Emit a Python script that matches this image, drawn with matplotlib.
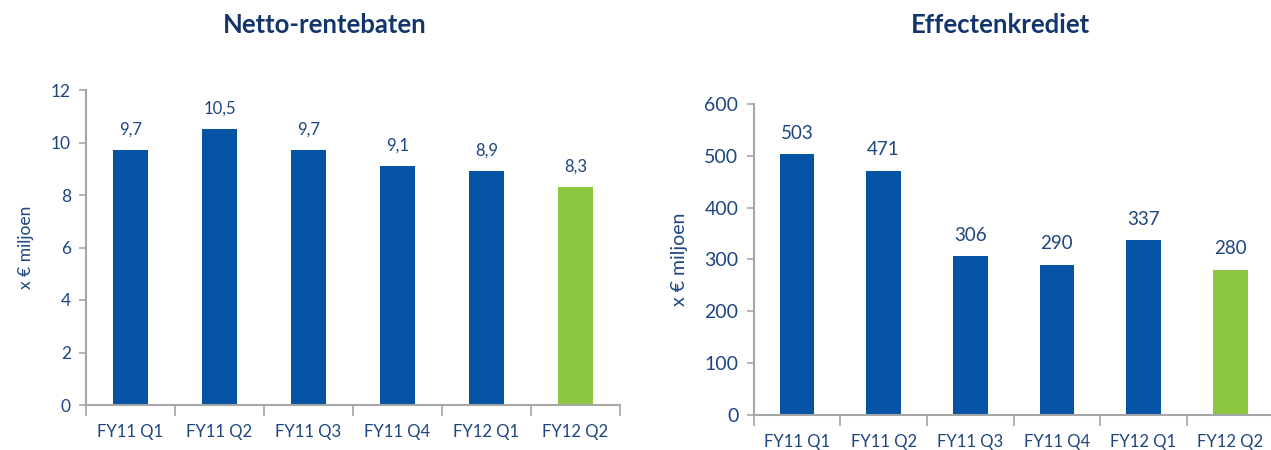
import matplotlib.pyplot as plt
import numpy as np

# data
quarters = ["FY11 Q1", "FY11 Q2", "FY11 Q3", "FY11 Q4", "FY12 Q1", "FY12 Q2"]
rente = [9.7, 10.5, 9.7, 9.1, 8.9, 8.3]
rente_labels = ["9,7", "10,5", "9,7", "9,1", "8,9", "8,3"]
krediet = [503, 471, 306, 290, 337, 280]
krediet_labels = ["503", "471", "306", "290", "337", "280"]

BLUE = "#0453a5"
GREEN = "#8dc63f"
TEXT = "#1d4580"
TITLE = "#12366b"
AXIS = "#a6a6a6"

plt.rcParams['font.family'] = ['Lato', 'DejaVu Sans']


def bar_panel(ax, values, labels, ymax, step, title, title_x, fs):
    x = np.arange(len(values))
    colors = [BLUE] * (len(values) - 1) + [GREEN]
    ax.bar(x, values, width=0.4, color=colors)
    for xi, v, lab in zip(x, values, labels):
        ax.annotate(lab, (xi, v), xytext=(0, 9), textcoords="offset points",
                    ha="center", va="bottom", fontsize=fs, color=TEXT)
    ax.set_xlim(-0.5, len(values) - 0.5)
    ax.set_ylim(0, ymax)
    ax.set_yticks(np.arange(0, ymax + step / 2, step))
    ax.set_xticks(x)
    ax.set_xticklabels(quarters)
    # tick marks sit between the categories
    ax.set_xticks(np.arange(-0.5, len(values)), minor=True)
    ax.tick_params(axis="x", which="major", length=0, pad=14, labelsize=12, labelcolor=TEXT)
    ax.tick_params(axis="x", which="minor", length=8, color=AXIS, width=1.2)
    ax.tick_params(axis="y", length=5, color=AXIS, width=1.2, labelsize=fs + 0.5, labelcolor=TEXT, pad=6)
    for side in ["top", "right"]:
        ax.spines[side].set_visible(False)
    for side in ["left", "bottom"]:
        ax.spines[side].set_color(AXIS)
        ax.spines[side].set_linewidth(1.5)
    ax.set_ylabel("x € miljoen", fontsize=fs + 0.5, color=TEXT, labelpad=12)
    fig.text(title_x, 0.944, title, ha="center", va="center",
             fontsize=18.5, fontweight="bold", color=TITLE)


fig = plt.figure(figsize=(12.71, 4.5), dpi=100)
ax1 = fig.add_axes([0.0677, 0.1, 0.4201, 0.7])
ax2 = fig.add_axes([0.5929, 0.0778, 0.4091, 0.6911])

bar_panel(ax1, rente, rente_labels, 12, 2, "Netto-rentebaten", 0.2557, 12)
bar_panel(ax2, krediet, krediet_labels, 600, 100, "Effectenkrediet", 0.7868, 13.5)

fig.savefig("out.png", dpi=100)
